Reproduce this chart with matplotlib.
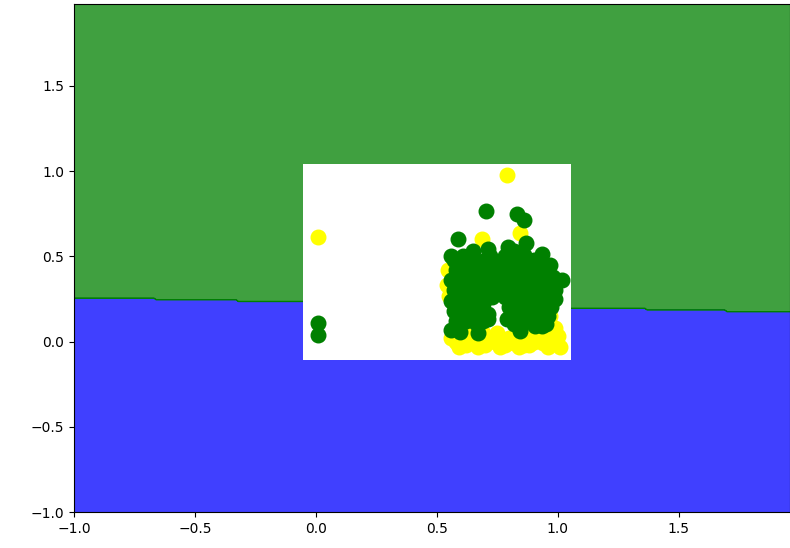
import numpy as np
import matplotlib
matplotlib.use("Agg")
import matplotlib.pyplot as plt
from matplotlib.colors import ListedColormap
from matplotlib.patches import Rectangle

# decision boundary of the fitted classifier (y value at the two ends of the x range)
boundary_x = [-1.0, 1.97]
boundary_y = [0.26, 0.172]

# class 0 samples (yellow)
yellow_x = [0.007, 0.788, 0.685, 0.844, 0.54, 0.545, 0.55, 0.967, 0.643,
            0.58, 0.62, 0.66, 0.70, 0.74, 0.78, 0.82, 0.86, 0.90, 0.94, 0.98, 1.01,
            0.60, 0.65, 0.75, 0.88, 0.96, 0.72, 0.84, 0.99,
            0.59, 0.63, 0.67, 0.71, 0.76, 0.80, 0.84, 0.88, 0.92, 0.96, 1.00,
            0.56, 0.69, 0.83, 0.93, 0.99,
            0.70, 0.80, 0.90, 0.64]
yellow_y = [0.616, 0.978, 0.60, 0.635, 0.33, 0.42, 0.27, 0.15, 0.46,
            0.00, -0.02, -0.01, -0.02, 0.00, -0.02, -0.01, -0.02, 0.00, -0.01, 0.00, -0.03,
            0.04, 0.06, 0.05, 0.04, 0.05, 0.02, 0.03, 0.03,
            -0.03, 0.03, -0.03, 0.02, -0.03, 0.02, -0.03, -0.02, 0.03, -0.03, 0.03,
            0.02, 0.05, 0.06, 0.07, 0.08,
            0.30, 0.30, 0.35, 0.20]

# class 1 samples (green)
green_x = [0.007, 0.007,
           0.705, 0.83, 0.862, 0.588, 0.867, 0.795, 0.71, 0.65, 0.934, 0.967, 1.017,
           0.56, 0.56, 0.594, 0.67, 0.712, 0.843, 0.905, 0.96, 0.934,
           0.57, 0.58, 0.56, 0.57, 0.56, 0.57, 0.58,
           0.61, 0.62, 0.60, 0.62, 0.60, 0.61, 0.63,
           0.65, 0.66, 0.64, 0.66, 0.65, 0.67, 0.66,
           0.69, 0.70, 0.68, 0.70, 0.69, 0.71,
           0.72, 0.73, 0.72, 0.74, 0.73, 0.75, 0.76,
           0.78, 0.79, 0.77, 0.79, 0.78, 0.80, 0.79,
           0.82, 0.83, 0.81, 0.83, 0.82, 0.84, 0.83, 0.82,
           0.86, 0.87, 0.85, 0.87, 0.86, 0.88, 0.87,
           0.90, 0.91, 0.89, 0.91, 0.90, 0.92, 0.90,
           0.94, 0.95, 0.93, 0.95, 0.94, 0.96,
           0.98, 0.97, 0.99,
           0.59, 0.63, 0.59, 0.63, 0.59, 0.64, 0.68, 0.67, 0.71, 0.68, 0.71, 0.74,
           0.75, 0.80, 0.81, 0.80, 0.84, 0.85, 0.85, 0.88, 0.89, 0.89, 0.89, 0.92,
           0.93, 0.93, 0.92, 0.96, 0.97, 0.97, 0.99, 0.58, 0.62, 0.69, 0.85, 0.95]
green_y = [0.11, 0.041,
           0.767, 0.747, 0.712, 0.604, 0.58, 0.557, 0.541, 0.531, 0.512, 0.447, 0.36,
           0.50, 0.07, 0.053, 0.051, 0.13, 0.061, 0.09, 0.208, 0.09,
           0.48, 0.42, 0.36, 0.30, 0.24, 0.18, 0.12,
           0.50, 0.45, 0.39, 0.33, 0.27, 0.21, 0.15,
           0.49, 0.43, 0.37, 0.30, 0.24, 0.18, 0.11,
           0.47, 0.41, 0.35, 0.28, 0.22, 0.16,
           0.50, 0.44, 0.37, 0.31, 0.26, 0.40, 0.46,
           0.50, 0.44, 0.38, 0.32, 0.26, 0.20, 0.13,
           0.53, 0.47, 0.41, 0.35, 0.29, 0.22, 0.16, 0.10,
           0.51, 0.45, 0.39, 0.33, 0.27, 0.21, 0.14,
           0.48, 0.42, 0.36, 0.30, 0.24, 0.17, 0.11,
           0.46, 0.40, 0.34, 0.28, 0.22, 0.15,
           0.38, 0.31, 0.25,
           0.45, 0.40, 0.33, 0.27, 0.21, 0.21, 0.44, 0.38, 0.33, 0.26, 0.40, 0.47,
           0.35, 0.47, 0.35, 0.26, 0.44, 0.31, 0.19, 0.48, 0.40, 0.28, 0.17, 0.45,
           0.38, 0.26, 0.21, 0.43, 0.36, 0.20, 0.30, 0.27, 0.12, 0.12, 0.09, 0.10]

# grid over the feature space
xx, yy = np.meshgrid(np.arange(-1.0, 1.97, 0.01), np.arange(-1.0, 1.99, 0.01))
Z = (yy > np.interp(xx, boundary_x, boundary_y)).astype(int)

fig = plt.figure(figsize=(7.9, 5.48), dpi=100)
ax = fig.add_axes([74 / 790, 36 / 548, 716 / 790, 508 / 548])
ax.contourf(xx, yy, Z, levels=[-0.5, 0.5, 1.5], alpha=0.75,
            cmap=ListedColormap(("blue", "green")))
ax.contour(xx, yy, Z, levels=[0.5], colors="green", linewidths=1)

# plain background behind the samples
ax.add_patch(Rectangle((-0.054, -0.106), 1.108, 1.146, facecolor="white",
                       edgecolor="none", zorder=2))

ax.scatter(yellow_x, yellow_y, c="yellow", s=110, zorder=3)
ax.scatter(green_x, green_y, c="green", s=110, zorder=4)

ax.set_xlim(xx.min(), xx.max())
ax.set_ylim(yy.min(), yy.max())
ax.set_xticks([-1.0, -0.5, 0.0, 0.5, 1.0, 1.5])
ax.set_yticks([-1.0, -0.5, 0.0, 0.5, 1.0, 1.5])
fig.savefig("out.png", dpi=100)
